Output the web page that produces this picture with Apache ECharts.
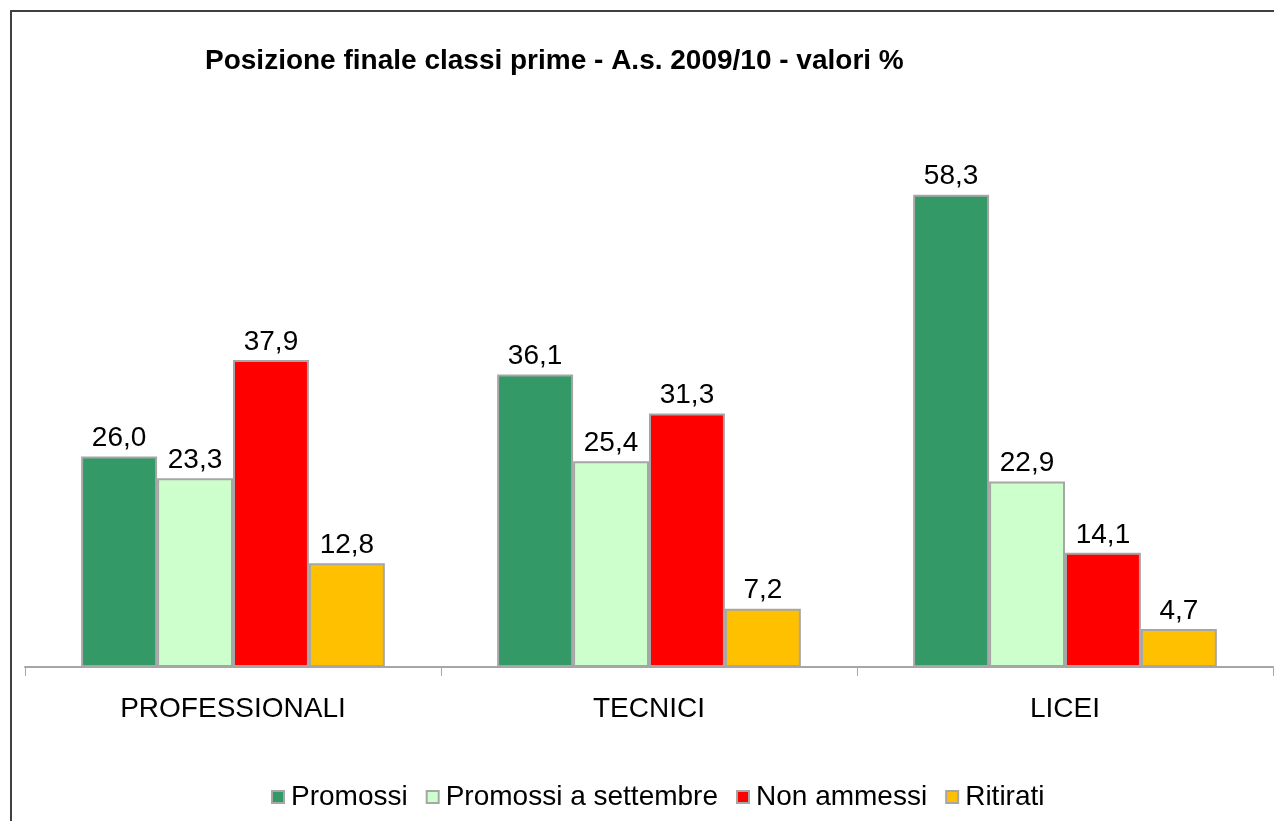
<!DOCTYPE html>
<html>
<head>
<meta charset="utf-8">
<script src="https://cdn.jsdelivr.net/npm/echarts@6/dist/echarts.min.js"></script>
<style>
  html, body { margin: 0; padding: 0; background: #fff; }
  #chart { width: 1274px; height: 821px; }
</style>
</head>
<body>
<div id="chart"></div>
<script>
// dati
const categories = ['PROFESSIONALI', 'TECNICI', 'LICEI']
const promossi = [26.0, 36.1, 58.3]
const promossiSettembre = [23.3, 25.4, 22.9]
const nonAmmessi = [37.9, 31.3, 14.1]
const ritirati = [12.8, 7.2, 4.7]

const seriesNames = ['Promossi', 'Promossi a settembre', 'Non ammessi', 'Ritirati']
const seriesColors = ['#339966', '#CCFFCC', '#FF0000', '#FFC000']
const seriesValues = [promossi, promossiSettembre, nonAmmessi, ritirati]

const font = 'Liberation Sans, Arial, sans-serif'
const fmt = (v) => v.toFixed(1).replace('.', ',')

const myEcharts = echarts.init(document.getElementById('chart'))

const seriesData = seriesValues.map((vals, i) => ({
  name: seriesNames[i],
  type: 'bar',
  barGap: '0%',
  barCategoryGap: '27%',
  itemStyle: {
    color: seriesColors[i],
    borderColor: '#A6A6A6',
    borderWidth: 2
  },
  label: {
    show: true,
    position: 'top',
    distance: 4,
    color: '#000',
    fontSize: 28,
    fontFamily: font,
    formatter: (p) => fmt(p.value)
  },
  emphasis: { disabled: true },
  data: vals
}))

myEcharts.setOption({
  animation: false,
  title: {
    text: 'Posizione finale classi prime - A.s. 2009/10 - valori %',
    left: 200,
    top: 42,
    textStyle: {
      fontSize: 28,
      fontWeight: 'bold',
      color: '#000',
      fontFamily: font
    }
  },
  legend: {
    left: 266,
    top: 778,
    itemWidth: 12,
    itemHeight: 12,
    itemGap: 18,
    icon: 'rect',
    selectedMode: false,
    itemStyle: { borderColor: '#A6A6A6', borderWidth: 2 },
    textStyle: {
      fontSize: 28,
      color: '#000',
      padding: [0, 0, 0, 2],
      fontFamily: font
    },
    data: seriesNames
  },
  graphic: [{
    type: 'rect',
    shape: { x: 11, y: 11, width: 1400, height: 1000 },
    style: { fill: 'none', stroke: '#404040', lineWidth: 2 },
    silent: true
  }],
  grid: {
    left: 25,
    right: 1,
    top: 100,
    bottom: 154,
    containLabel: false
  },
  xAxis: {
    type: 'category',
    data: categories,
    axisLine: { show: true, lineStyle: { color: '#A6A6A6', width: 2 } },
    axisTick: { show: true, length: 9, lineStyle: { color: '#A6A6A6', width: 1 } },
    axisLabel: {
      margin: 28,
      fontSize: 28,
      color: '#000',
      fontFamily: font
    }
  },
  yAxis: {
    type: 'value',
    min: 0,
    max: 70,
    interval: 10,
    show: false,
    splitLine: { show: false }
  },
  series: seriesData
})
</script>
</body>
</html>
